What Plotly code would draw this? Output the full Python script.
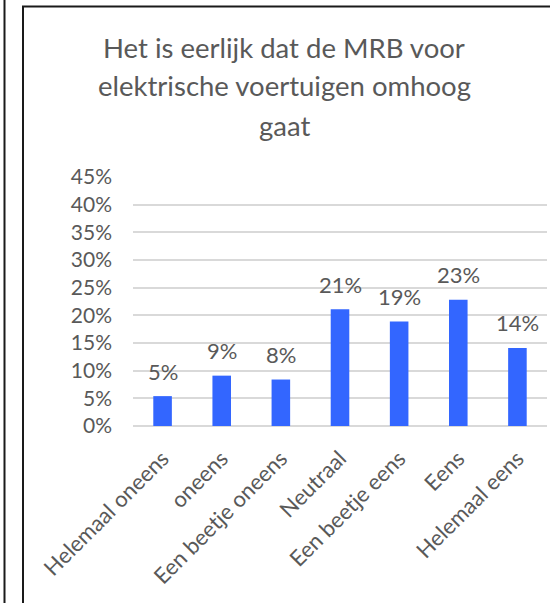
import plotly.graph_objects as go

categories = ["Helemaal oneens", "oneens", "Een beetje oneens", "Neutraal",
              "Een beetje eens", "Eens", "Helemaal eens"]
values = [0.054, 0.091, 0.084, 0.211, 0.189, 0.228, 0.141]
labels = ["5%", "9%", "8%", "21%", "19%", "23%", "14%"]
title_lines = ["Het is eerlijk dat de MRB voor", "elektrische voertuigen omhoog", "gaat"]
y_ticks = [0, 0.05, 0.10, 0.15, 0.20, 0.25, 0.30, 0.35, 0.40, 0.45]
y_ticklabels = ["0%", "5%", "10%", "15%", "20%", "25%", "30%", "35%", "40%", "45%"]

FONT = "Lato"
GREY = "#595959"

W, H = 550, 603
L, R, T, B = 133, 3, 177, 177
pw = W - L - R
ph = H - T - B

def px_x(p):
    return (p - L) / pw

def px_y(p):
    return (H - B - p) / ph

fig = go.Figure()
fig.add_trace(go.Bar(x=categories, y=values, marker=dict(color="#3366FF", line=dict(width=0)),
                     hoverinfo="skip"))

annotations = []
for c, v, t in zip(categories, values, labels):
    annotations.append(dict(x=c, y=v, xref="x", yref="y", text=t, showarrow=False,
                            yanchor="middle", yshift=25,
                            font=dict(family=FONT, size=22, color=GREY)))

title_y = [47, 86, 125]
for line, yy in zip(title_lines, title_y):
    annotations.append(dict(x=px_x(284), y=px_y(yy), xref="paper", yref="paper",
                            text=line, showarrow=False, xanchor="center", yanchor="middle",
                            font=dict(family=FONT, size=27.5, color=GREY)))

shapes = [
    dict(type="line", xref="paper", yref="paper", x0=px_x(4.5), x1=px_x(4.5),
         y0=px_y(0), y1=px_y(603), line=dict(color="#1a1a1a", width=2)),
    dict(type="line", xref="paper", yref="paper", x0=px_x(23), x1=px_x(23),
         y0=px_y(6), y1=px_y(603), line=dict(color="#1a1a1a", width=2)),
    dict(type="line", xref="paper", yref="paper", x0=px_x(22), x1=px_x(550),
         y0=px_y(6.5), y1=px_y(6.5), line=dict(color="#1a1a1a", width=2)),
]

fig.update_layout(
    width=W, height=H,
    margin=dict(l=L, r=R, t=T, b=B, autoexpand=False),
    paper_bgcolor="white", plot_bgcolor="white",
    showlegend=False,
    bargap=0.686,
    annotations=annotations,
    shapes=shapes,
    font=dict(family=FONT, color=GREY),
    xaxis=dict(tickangle=-45, tickfont=dict(family=FONT, size=22, color=GREY),
               ticks="outside", ticklen=10, tickcolor="rgba(0,0,0,0)",
               showgrid=False, showline=False, zeroline=False),
    yaxis=dict(range=[0, 0.45], tickvals=y_ticks, ticktext=y_ticklabels,
               tickfont=dict(family=FONT, size=21, color=GREY),
               showgrid=True, gridcolor="#D9D9D9", gridwidth=1.5,
               zeroline=True, zerolinecolor="#D9D9D9", zerolinewidth=1.5,
               showline=False, ticks="", ticklabelstandoff=20),
)

fig.write_html("out.html")
